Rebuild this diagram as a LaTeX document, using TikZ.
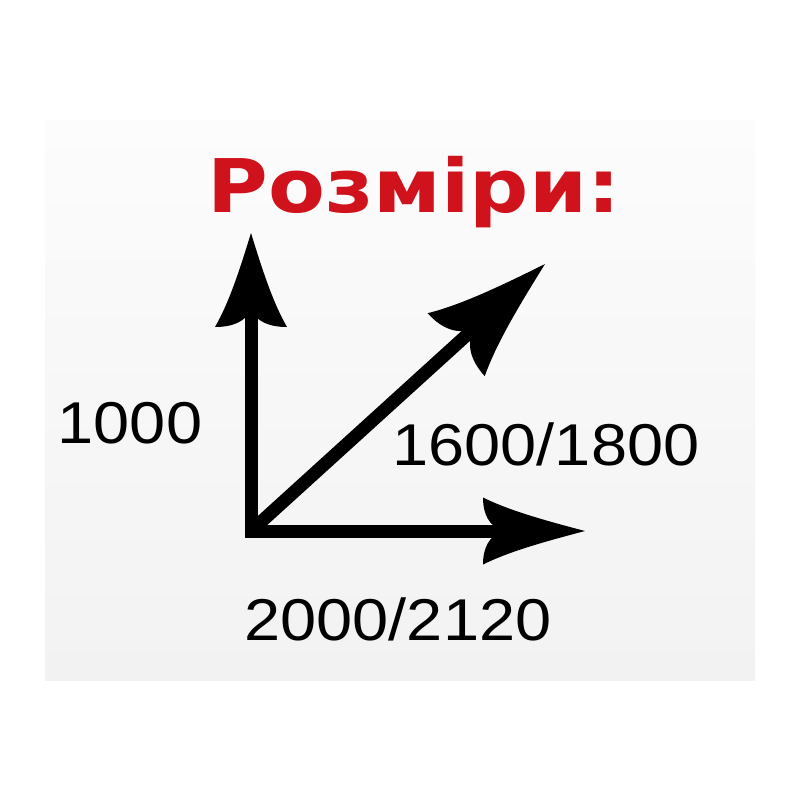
\documentclass[tikz,border=0pt]{standalone}
\usepackage{fontspec}
\setmainfont{Liberation Sans}
\newfontfamily\titlefont{DejaVu Sans}
\usetikzlibrary{arrows.meta}

% curved barbed arrow head
\newdimen\barbshaft
\pgfdeclarearrow{
  name = Barb,
  parameters = {\the\pgfarrowlength,\the\pgfarrowwidth,\the\pgfarrowinset},
  setup code = {
    \pgfarrowssettipend{0pt}
    \pgfarrowssetbackend{-\pgfarrowlength}
    \barbshaft=\pgfarrowlength
    \advance\barbshaft by -\pgfarrowinset
    \pgfarrowssetlineend{-0.9\barbshaft}
    \pgfarrowssavethe\pgfarrowlength
    \pgfarrowssavethe\pgfarrowwidth
    \pgfarrowssavethe\pgfarrowinset
  },
  drawing code = {
    \barbshaft=\pgfarrowlength
    \advance\barbshaft by -\pgfarrowinset
    \pgfpathmoveto{\pgfqpoint{0pt}{0pt}}
    \pgfpathcurveto{\pgfqpoint{-0.4\pgfarrowlength}{0.16\pgfarrowwidth}}
      {\pgfqpoint{-0.75\pgfarrowlength}{0.31\pgfarrowwidth}}
      {\pgfqpoint{-\pgfarrowlength}{0.5\pgfarrowwidth}}
    \pgfpathquadraticcurveto{\pgfqpoint{-\pgfarrowlength}{0.12\pgfarrowwidth}}
      {\pgfqpoint{-\barbshaft}{0pt}}
    \pgfpathquadraticcurveto{\pgfqpoint{-\pgfarrowlength}{-0.12\pgfarrowwidth}}
      {\pgfqpoint{-\pgfarrowlength}{-0.5\pgfarrowwidth}}
    \pgfpathcurveto{\pgfqpoint{-0.75\pgfarrowlength}{-0.31\pgfarrowwidth}}
      {\pgfqpoint{-0.4\pgfarrowlength}{-0.16\pgfarrowwidth}}
      {\pgfqpoint{0pt}{0pt}}
    \pgfpathclose
    \pgfusepathqfill
  },
  defaults = {length=20pt, width=16pt, inset=4pt}
}

\definecolor{titlered}{RGB}{208,18,28}

\tikzset{
  shaft/.style={line width=13pt, line cap=rect},
  size/.style={inner sep=0pt, anchor=base, xscale=1.1, font=\fontsize{59}{59}\selectfont},
}

\begin{document}
\begin{tikzpicture}[x=1pt,y=1pt,yscale=-1]
\useasboundingbox (0,0) rectangle (800,800);
\fill[white] (0,0) rectangle (800,800);

%Shape: Panel
\shade[top color={rgb,255:red,252;green,252;blue,252}, bottom color={rgb,255:red,242;green,242;blue,242}] (45,120) rectangle (755,680);

% Corner and tips
\coordinate (O) at (251,531);
\coordinate (up) at (251,233);
\coordinate (right) at (585,531);
\coordinate (diag) at (545,264);

%Straight Lines
\draw[shaft, -{Barb[length=94pt,width=72pt,inset=17pt]}] (O) -- (up);
\draw[shaft, -{Barb[length=102pt,width=67pt,inset=19pt]}] (O) -- (right);
\draw[shaft, line cap=butt, -{Barb[length=120pt,width=85pt,inset=23pt]}] (O) -- (diag);

% Text Node
\node[inner sep=0pt, anchor=base, xscale=1.12, text=titlered, font=\titlefont\bfseries\fontsize{74}{74}\selectfont] (title) at (414,212) {Розміри:};
% Text Node
\node[size] (height) at (130,443) {1000};
% Text Node
\node[size] (depth) at (546,465) {1600/1800};
% Text Node
\node[size] (width) at (398,640) {2000/2120};

\end{tikzpicture}
\end{document}
